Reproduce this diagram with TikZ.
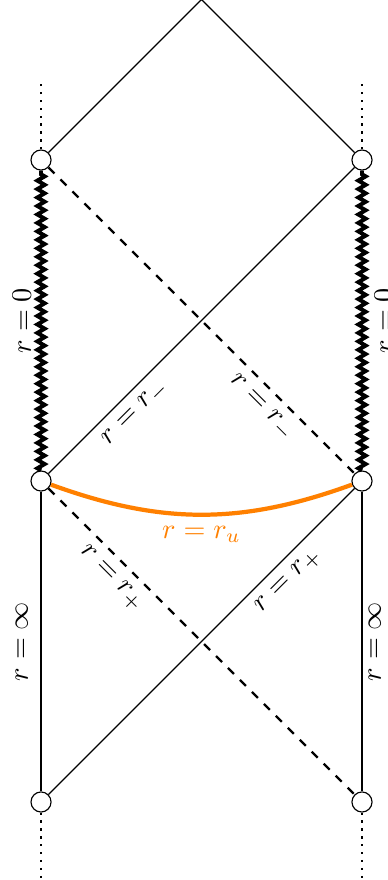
\documentclass[tikz,border=0pt]{standalone}
\usepackage{amsmath, amssymb}
\usepackage{tikz}
\usetikzlibrary{arrows.meta, positioning, calc, decorations.pathmorphing}
\usepackage{xcolor}
\definecolor{horizonOrange}{HTML}{FF8000}

\tikzset{
  bdry/.style={circle, draw, fill=white, minimum size=0.25cm, inner sep=0pt},
  sing/.style={line width=1.4pt, decorate,
               decoration={zigzag, amplitude=1.3pt, segment length=3pt}},
  horizon/.style={thick, dashed},
  infline/.style={thick, dotted},
}

\begin{document}
\begin{tikzpicture}
  \useasboundingbox (-0.511,-0.972) rectangle (4.312,9.994);

  % boundary points
  \node[bdry] (lb) at (0,0) {};
  \node[bdry] (rb) at (4,0) {};
  \node[bdry] (lm) at (0,4) {};
  \node[bdry] (rm) at (4,4) {};
  \node[bdry] (lt) at (0,8) {};
  \node[bdry] (rt) at (4,8) {};
  \coordinate (top) at (2,10);
  \coordinate (lu) at (0,9);
  \coordinate (ru) at (4,9);
  \coordinate (ld) at (0,-1);
  \coordinate (rd) at (4,-1);

  % outer edges
  \draw (lt) -- (top) -- (rt);
  \draw (lm) -- (lb);
  \draw (rm) -- (rb);
  \draw[infline] (lt) -- (lu);
  \draw[infline] (rt) -- (ru);
  \draw[infline] (lb) -- (ld);
  \draw[infline] (rb) -- (rd);

  % singularities
  \draw[sing] (lm) -- (lt);
  \draw[sing] (rm) -- (rt);

  % horizons
  \draw (lm) -- node[pos=0.24, below, sloped] {$r=r_-$} (rt);
  \draw[horizon] (lt) -- node[pos=0.74, below, sloped] {$r=r_-$} (rm);
  \draw[horizon] (lm) -- node[pos=0.25, below, sloped] {$r=r_+$} (rb);
  \draw (lb) -- node[pos=0.74, below, sloped] {$r=r_+$} (rm);

  \draw[horizonOrange, line width=1.5pt] (lm) to[bend right=20]
    node[below] {$r=r_u$} (rm);

  % boundary labels
  \node[rotate=90] (lzero) at (-0.24,6) {$r=0$};
  \node[rotate=90] (rzero) at (4.27,6) {$r=0$};
  \node[rotate=90] (linf) at (-0.24,2) {$r=\infty$};
  \node[rotate=90] (rinf) at (4.16,2) {$r=\infty$};
\end{tikzpicture}
\end{document}
